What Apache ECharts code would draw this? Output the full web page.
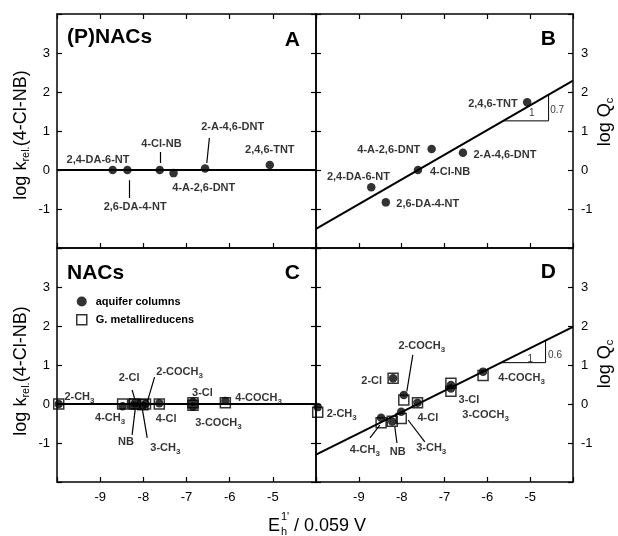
<!DOCTYPE html>
<html>
<head>
<meta charset="utf-8">
<script src="https://cdn.jsdelivr.net/npm/echarts@6/dist/echarts.min.js"></script>
<style>
  html, body { margin: 0; background: #fff; }
  #chart { width: 618px; height: 536px; }
</style>
</head>
<body>
<div id="chart"></div>
<script>
// (P)NACs, panels A and B
const pnacNames = ['2,4-DA-6-NT', '2,6-DA-4-NT', '4-Cl-NB', '4-A-2,6-DNT', '2-A-4,6-DNT', '2,4,6-TNT']
const pnacE = [-8.71, -8.37, -7.62, -7.30, -6.57, -5.07]
const pnacLogK = [0, 0, 0, -0.08, 0.04, 0.13]
const pnacLogQ = [-0.44, -0.83, 0, 0.54, 0.44, 1.74]

// NACs, panels C and D
const nacNames = ['2-CH3', '4-CH3', 'NB', '2-Cl', '3-CH3', '2-COCH3', '4-Cl', '3-Cl', '3-COCH3', '4-COCH3']
const nacE = [-9.96, -8.48, -8.22, -8.20, -8.01, -7.95, -7.63, -6.85, -6.85, -6.10]
const columnLogK = [0, -0.06, -0.04, 0.02, -0.04, 0, 0.02, 0.06, -0.07, 0.08]
const cultureLogK = [0, 0, 0, 0, -0.02, 0, 0, 0.03, -0.03, 0.03]
const columnLogQ = [-0.08, -0.35, -0.45, 0.66, -0.20, 0.23, 0.03, 0.49, 0.40, 0.83]
const cultureLogQ = [-0.21, -0.48, -0.44, 0.66, -0.37, 0.10, 0.03, 0.53, 0.33, 0.73]

// regression lines
const fitE = [-10, -4]
const fitA = [0, 0]
const fitB = [-1.51, 2.29]
const fitC = [0, 0]
const fitD = [-1.30, 1.98]

const xTicks = [-9, -8, -7, -6, -5]
const yTicks = [-1, 0, 1, 2, 3]

// annotation placement (text, x, y in data units)
const labelsA = [
  ['2,4-DA-6-NT', -9.05, 0.26], ['2,6-DA-4-NT', -8.19, -0.95], ['4-Cl-NB', -7.58, 0.67],
  ['4-A-2,6-DNT', -6.60, -0.46], ['2-A-4,6-DNT', -5.93, 1.10], ['2,4,6-TNT', -5.07, 0.51]
]
const labelsB = [
  ['2,4,6-TNT', -5.87, 1.69], ['4-A-2,6-DNT', -8.30, 0.51], ['2-A-4,6-DNT', -5.59, 0.38],
  ['4-Cl-NB', -6.87, -0.05], ['2,4-DA-6-NT', -9.01, -0.18], ['2,6-DA-4-NT', -7.39, -0.87]
]
const labelsC = [
  ['2-CH{s|3}', -9.48, 0.18], ['4-CH{s|3}', -8.77, -0.36], ['NB', -8.40, -0.97],
  ['3-CH{s|3}', -7.49, -1.13], ['2-Cl', -8.33, 0.67], ['2-COCH{s|3}', -7.16, 0.82],
  ['4-Cl', -7.47, -0.38], ['3-Cl', -6.63, 0.28], ['3-COCH{s|3}', -6.26, -0.49],
  ['4-COCH{s|3}', -5.33, 0.15]
]
const labelsD = [
  ['2-COCH{s|3}', -7.53, 1.49], ['2-Cl', -8.70, 0.59], ['2-CH{s|3}', -9.40, -0.26],
  ['4-Cl', -7.39, -0.36], ['3-Cl', -6.43, 0.10], ['3-COCH{s|3}', -6.04, -0.28],
  ['4-COCH{s|3}', -5.20, 0.67], ['4-CH{s|3}', -8.86, -1.18], ['NB', -8.09, -1.23],
  ['3-CH{s|3}', -7.31, -1.13]
]
const leadersA = [[-8.33, -0.26, -8.33, -0.72], [-7.60, 0.46, -7.60, 0.18], [-6.47, 0.82, -6.53, 0.18]]
const leadersC = [[-8.26, 0.36, -8.19, 0.10], [-8.26, -0.79, -8.19, -0.15], [-7.91, -0.87, -8.02, -0.15], [-7.74, 0.69, -7.91, 0.05]]
const leadersD = [[-7.74, 1.26, -7.88, 0.32], [-8.74, -0.87, -8.51, -0.54], [-8.11, -1.0, -8.16, -0.59], [-7.46, -0.97, -7.85, -0.41]]
const triB = [[-5.62, 1.26], [-4.57, 1.26], [-4.57, 1.93]]
const triD = [[-5.68, 1.06], [-4.64, 1.06], [-4.64, 1.63]]
const slopeB = [['1', -4.96, 1.46], ['0.7', -4.37, 1.54]]
const slopeD = [['1', -5.00, 1.15], ['0.6', -4.42, 1.26]]

const FONT = 'Liberation Sans, Arial, sans-serif'
const chart = echarts.init(document.getElementById('chart'))

const grids = [
  { left: 57, top: 14, width: 259, height: 234 },
  { left: 316, top: 14, width: 257, height: 234 },
  { left: 57, top: 248, width: 259, height: 234 },
  { left: 316, top: 248, width: 257, height: 234 }
]

const lineCol = { color: '#000', width: 1.5 }
const tickStyle = { inside: true, length: 5, lineStyle: { color: '#000', width: 1.2 } }
const tickLabel = { color: '#000', fontSize: 13, fontFamily: FONT }

const xAxis = []
const yAxis = []
grids.forEach((g, i) => {
  xAxis.push({
    gridIndex: i, type: 'value', min: -10, max: -4, interval: 1, position: 'bottom',
    axisLine: { onZero: false, lineStyle: lineCol },
    axisTick: tickStyle,
    splitLine: { show: false },
    axisLabel: Object.assign({ show: i >= 2, margin: 9, formatter: v => xTicks.indexOf(v) >= 0 ? String(v) : '' }, tickLabel)
  })
  xAxis.push({
    gridIndex: i, type: 'value', min: -10, max: -4, interval: 1, position: 'top',
    axisLine: { onZero: false, lineStyle: lineCol },
    axisTick: Object.assign({}, tickStyle, { show: i < 2 }),
    splitLine: { show: false },
    axisLabel: { show: false }
  })
  yAxis.push({
    gridIndex: i, type: 'value', min: -2, max: 4, interval: 1, position: 'left',
    axisLine: { onZero: false, lineStyle: lineCol },
    axisTick: tickStyle,
    splitLine: { show: false },
    axisLabel: Object.assign({ show: i % 2 === 0, margin: 7, formatter: v => yTicks.indexOf(v) >= 0 ? String(v) : '' }, tickLabel)
  })
  yAxis.push({
    gridIndex: i, type: 'value', min: -2, max: 4, interval: 1, position: 'right',
    axisLine: { onZero: false, lineStyle: lineCol },
    axisTick: tickStyle,
    splitLine: { show: false },
    axisLabel: Object.assign({ show: i % 2 === 1, margin: 8, formatter: v => yTicks.indexOf(v) >= 0 ? String(v) : '' }, tickLabel)
  })
})

const zip = (xs, ys) => xs.map((x, i) => [x, ys[i]])
const onPanel = i => ({ xAxisIndex: i * 2, yAxisIndex: i * 2 })

function fitLine(i, ys) {
  return Object.assign({
    type: 'line', data: zip(fitE, ys), showSymbol: false, silent: true,
    lineStyle: { color: '#000', width: 2 }, z: 3
  }, onPanel(i))
}
function circles(i, name, ys, xs) {
  return Object.assign({
    type: 'scatter', name: name, data: zip(xs, ys), symbol: 'circle', symbolSize: 8.5,
    itemStyle: { color: '#000' }, z: 6
  }, onPanel(i))
}
function squares(i, name, ys, xs) {
  return Object.assign({
    type: 'scatter', name: name, data: zip(xs, ys), symbol: 'rect', symbolSize: 10,
    itemStyle: { color: 'rgba(0,0,0,0)', borderColor: '#000', borderWidth: 1.5 }, z: 5
  }, onPanel(i))
}
function texts(i, list, bold, size) {
  return Object.assign({
    type: 'scatter', silent: true, symbolSize: 0, z: 8,
    data: list.map(l => ({ value: [l[1], l[2]], label: { formatter: l[0] } })),
    label: {
      show: true, position: 'inside', color: '#000', fontSize: size,
      fontWeight: bold ? 'bold' : 'normal', fontFamily: FONT, lineHeight: 12,
      rich: { s: { fontSize: 8, fontWeight: 'bold', fontFamily: FONT, lineHeight: 8, padding: [7, 0, 0, 0] } }
    }
  }, onPanel(i))
}
function leaders(i, list) {
  return Object.assign({
    type: 'lines', coordinateSystem: 'cartesian2d', silent: true, z: 4,
    data: list.map(s => ({ coords: [[s[0], s[1]], [s[2], s[3]]] })),
    lineStyle: { color: '#000', width: 1.2, opacity: 1 }
  }, onPanel(i))
}
function triangle(i, pts) {
  return Object.assign({
    type: 'line', data: pts, showSymbol: false, silent: true,
    lineStyle: { color: '#000', width: 1 }, z: 3
  }, onPanel(i))
}

const series = [
  fitLine(0, fitA), circles(0, 'pnac', pnacLogK, pnacE), texts(0, labelsA, true, 11), leaders(0, leadersA),
  fitLine(1, fitB), circles(1, 'pnac', pnacLogQ, pnacE), texts(1, labelsB, true, 11),
  triangle(1, triB), texts(1, slopeB, false, 10),
  fitLine(2, fitC), squares(2, 'G. metallireducens', cultureLogK, nacE), circles(2, 'aquifer columns', columnLogK, nacE),
  texts(2, labelsC, true, 11), leaders(2, leadersC),
  fitLine(3, fitD), squares(3, 'G. metallireducens', cultureLogQ, nacE), circles(3, 'aquifer columns', columnLogQ, nacE),
  texts(3, labelsD, true, 11), leaders(3, leadersD),
  triangle(3, triD), texts(3, slopeD, false, 10)
]

const bigRich = {
  a: { fontSize: 18, fontFamily: FONT, color: '#000', lineHeight: 20 },
  s: { fontSize: 11, fontFamily: FONT, color: '#000', lineHeight: 11, padding: [10, 0, 0, 0] }
}
const letter = (txt, x, y, align) => ({
  type: 'text', x: x, y: y,
  style: { text: txt, fill: '#000', font: 'bold 21px ' + FONT, align: align, verticalAlign: 'middle' }
})

chart.setOption({
  animation: false,
  grid: grids,
  xAxis: xAxis,
  yAxis: yAxis,
  legend: {
    left: 71, top: 291, orient: 'vertical', itemGap: 7, itemWidth: 10, itemHeight: 10,
    selectedMode: false,
    data: [
      { name: 'aquifer columns', icon: 'circle', itemStyle: { color: '#000' } },
      { name: 'G. metallireducens', icon: 'rect', itemStyle: { color: '#fff', borderColor: '#000', borderWidth: 1.5 } }
    ],
    textStyle: { color: '#000', fontWeight: 'bold', fontSize: 11, fontFamily: FONT, padding: [0, 0, 0, 4] }
  },
  graphic: [
    letter('(P)NACs', 67, 37, 'left'),
    letter('A', 300, 40, 'right'),
    letter('B', 556, 39, 'right'),
    letter('NACs', 67, 273, 'left'),
    letter('C', 300, 273, 'right'),
    letter('D', 556, 272, 'right'),
    { type: 'text', x: 21, y: 135, rotation: Math.PI / 2,
      style: { text: '{a|log k}{s|rel.}{a|(4-Cl-NB)}', rich: bigRich, align: 'center', verticalAlign: 'middle' } },
    { type: 'text', x: 21, y: 371, rotation: Math.PI / 2,
      style: { text: '{a|log k}{s|rel.}{a|(4-Cl-NB)}', rich: bigRich, align: 'center', verticalAlign: 'middle' } },
    { type: 'text', x: 605, y: 122, rotation: Math.PI / 2,
      style: { text: '{a|log Q}{s|c}', rich: bigRich, align: 'center', verticalAlign: 'middle' } },
    { type: 'text', x: 605, y: 364, rotation: Math.PI / 2,
      style: { text: '{a|log Q}{s|c}', rich: bigRich, align: 'center', verticalAlign: 'middle' } },
    { type: 'text', x: 268, y: 526, style: { text: 'E', fill: '#000', font: '18px ' + FONT, verticalAlign: 'middle' } },
    { type: 'text', x: 281, y: 517, style: { text: "1'", fill: '#000', font: '11px ' + FONT, verticalAlign: 'middle' } },
    { type: 'text', x: 281, y: 532, style: { text: 'h', fill: '#000', font: '11px ' + FONT, verticalAlign: 'middle' } },
    { type: 'text', x: 294, y: 526, style: { text: '/ 0.059 V', fill: '#000', font: '18px ' + FONT, verticalAlign: 'middle' } }
  ],
  series: series
})
</script>
</body>
</html>
